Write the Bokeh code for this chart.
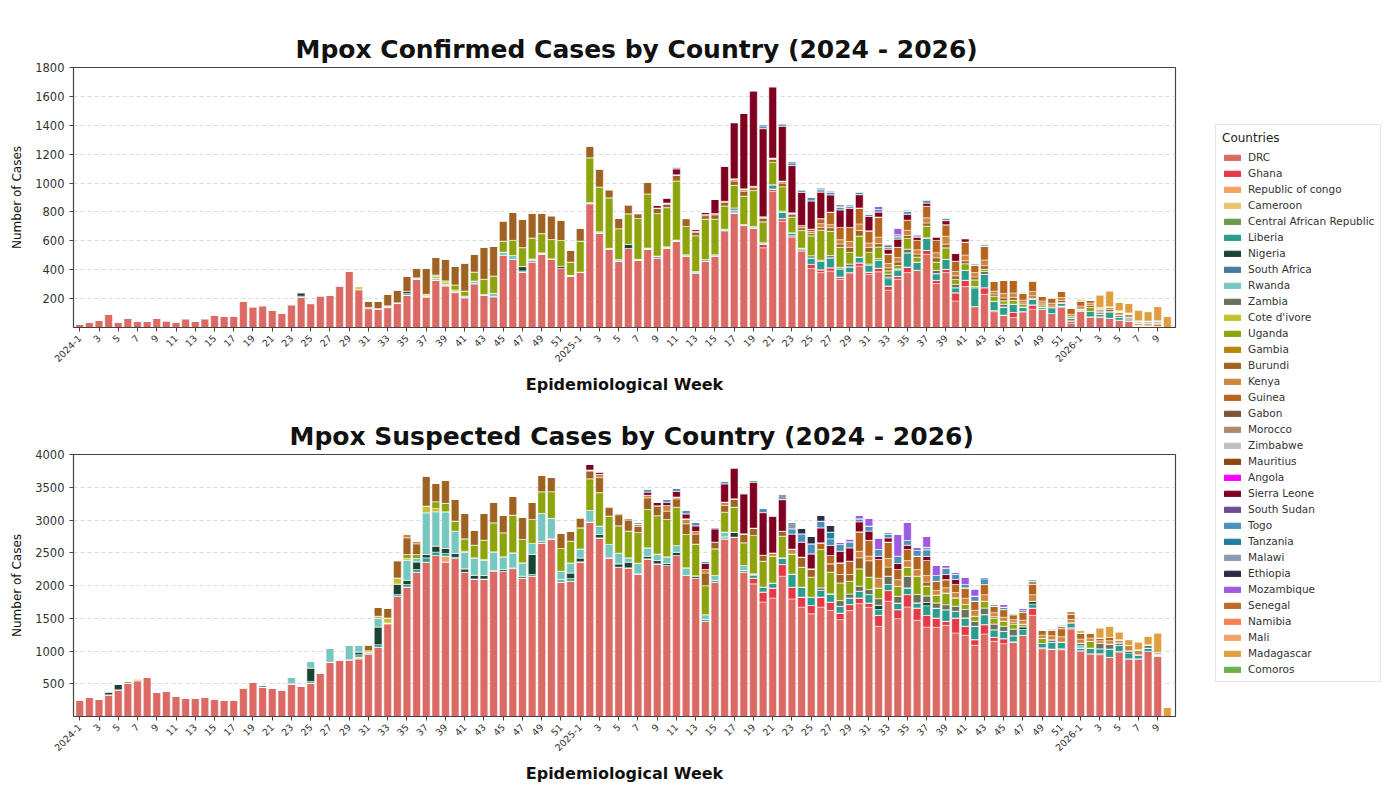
import math
from bokeh.plotting import figure
from bokeh.models import (ColumnDataSource, Range1d, FixedTicker, Legend, LegendItem)
from bokeh.layouts import row, column
from bokeh.embed import file_html
from bokeh.resources import INLINE

# ---------------- categories ----------------
YEARS = [2024, 2025, 2026]
WEEKS_PER_YEAR = [52, 52, 10]
WEEKS = [(y, w) for y, n in zip(YEARS, WEEKS_PER_YEAR) for w in range(1, n + 1)]
WEEK_LABELS = [f"{y}-{w}" if w == 1 else str(w) for y, w in WEEKS]
N = len(WEEKS)

COUNTRIES = ["DRC", "Ghana", "Republic of congo", "Cameroon", "Central African Republic",
             "Liberia", "Nigeria", "South Africa", "Rwanda", "Zambia", "Cote d'ivore",
             "Uganda", "Gambia", "Burundi", "Kenya", "Guinea", "Gabon", "Morocco",
             "Zimbabwe", "Mauritius", "Angola", "Sierra Leone", "South Sudan", "Togo",
             "Tanzania", "Malawi", "Ethiopia", "Mozambique", "Senegal", "Namibia", "Mali",
             "Madagascar", "Comoros"]
COLORS = ["#dc6a64", "#e63946", "#f4a261", "#e9c46a", "#6a994e", "#2a9d8f", "#1b4332",
          "#457b9d", "#76c7c0", "#6b705c", "#c2c22e", "#8da40c", "#b8860b", "#9e6322",
          "#cd853f", "#b5651d", "#7f5539", "#b08968", "#c0c0c0", "#8b4513", "#ff00ff",
          "#800020", "#6a4c93", "#4a90b8", "#227c9d", "#8d99ae", "#2b2d42", "#9d5bdf",
          "#bc6c25", "#ff7f50", "#f5a26a", "#e09f3e", "#6ab04c"]

Y_TICKS_C = [200, 400, 600, 800, 1000, 1200, 1400, 1600, 1800]
Y_TICKS_S = [500, 1000, 1500, 2000, 2500, 3000, 3500, 4000]

# ---------------- confirmed cases (index = week position) ----------------
DRC_C = [
    23, 35, 53, 92, 39, 64, 46, 46, 64, 46, 39, 62, 46, 62, 85, 78, 78, 180, 145, 152,
    120, 101, 159, 212, 166, 221, 223, 290, 391, 262, 131, 126, 138, 166, 225, 334, 212, 329, 290, 242,
    207, 304, 223, 214, 499, 471, 384, 455, 510, 471, 409, 356,
    384, 858, 655, 540, 460, 547, 467, 545, 483, 552, 598, 494, 375, 460, 494, 671, 793, 706, 690, 552,
    943, 736, 626, 529, 409, 380, 391, 334, 380, 425, 368, 386, 258, 334, 380, 396, 506, 304, 380, 184,
    283, 145, 230, 110, 87, 69, 110, 127, 127, 97, 138, 30,
    115, 74, 74, 64, 51, 46, 11, 7, 7, 0]
GHANA_C = {71: 25, 72: 16, 73: 18, 74: 10, 75: 10, 76: 28, 77: 20, 78: 23, 79: 16, 81: 23, 82: 16,
           83: 25, 84: 30, 85: 20, 86: 39, 88: 28, 89: 23, 90: 23, 91: 57, 92: 44, 94: 46, 95: 8,
           97: 35, 99: 30, 102: 10, 103: 16}
CAMEROON_C = {9: 5, 29: 23, 31: 5, 32: 5, 33: 5, 36: 8}
LIBERIA_C = {23: 5, 30: 8, 34: 10, 46: 8, 72: 30, 73: 46, 74: 15, 75: 10, 76: 45, 77: 57, 78: 69,
             79: 57, 80: 40, 81: 40, 82: 46, 83: 57, 84: 50, 85: 40, 86: 99, 87: 57, 88: 87, 89: 46,
             90: 69, 91: 35, 92: 69, 93: 131, 94: 92, 95: 64, 96: 55, 97: 57, 98: 32, 99: 39,
             100: 15, 101: 41, 102: 20, 103: 20, 104: 8, 105: 37, 106: 20, 107: 46, 108: 20,
             109: 15, 110: 5, 111: 5}
NIGERIA_C = {23: 25, 34: 15, 46: 30, 47: 10, 50: 14, 57: 28, 60: 12, 64: 5, 65: 10, 74: 5, 84: 12, 85: 12}
RWANDA_C = {32: 7, 35: 10, 37: 10, 38: 8, 39: 8, 40: 10, 41: 18, 42: 6, 43: 23, 44: 23, 45: 28,
            47: 10, 48: 7, 49: 5, 51: 5, 53: 7, 54: 8, 55: 8, 56: 10, 58: 5, 59: 5, 61: 7, 62: 8,
            63: 10, 64: 8, 66: 10, 67: 10, 68: 20, 69: 7, 70: 10, 71: 10}
ZAMBIA_C = {68: 15, 73: 7, 76: 15, 77: 10, 78: 15, 79: 10, 80: 20, 82: 10, 83: 10, 84: 20, 86: 25,
            89: 23, 91: 22, 93: 8, 94: 20, 96: 20, 104: 5, 106: 15, 108: 15, 109: 10}
COTE_C = {36: 10, 37: 15, 38: 15, 39: 10}
UGANDA_C = [0] * 37 + [
    10, 10, 35, 35, 62, 105, 120, 76, 104, 131, 145, 133, 133, 179, 92,
    214, 310, 310, 350, 214, 212, 283, 375, 294, 271, 409, 196, 248, 281, 246, 161, 156, 196, 248, 145,
    154, 168, 108, 122, 138, 207, 168, 138, 80, 145, 80, 80, 23, 23, 74, 35, 80, 57, 80, 35,
    46, 46, 15, 35, 23, 28, 18, 8, 15, 0, 5, 10,
    0, 28]
BURUNDI_C = [0] * 30 + [
    41, 51, 80, 91, 107, 70, 180, 124, 153, 128, 197, 122, 225, 206, 142, 195, 199, 173, 143, 166, 143, 83,
    92, 78, 126, 57, 75, 64, 34, 82, 35, 23, 39, 53, 23, 23, 30, 25, 30, 35, 20, 25,
    20, 25, 20, 20, 15, 20, 25, 23, 35, 39, 35, 23, 20, 25, 20, 20, 23, 30, 25, 25,
    20, 20, 25, 15, 20, 20, 10, 15, 12, 10, 15, 0,
    0, 15, 0, 15]
KENYA_C = [0] * 53 + [
    5, 0, 0, 0, 0, 0, 0, 4, 9, 4, 6, 8, 8, 9, 7, 16, 16, 10, 10,
    10, 14, 10, 15, 15, 25, 21, 30, 40, 45, 30, 45, 30, 30, 36, 30, 35, 35, 55, 30,
    40, 30, 40, 20, 30, 30, 20, 30, 15, 20, 20, 15,
    20, 15, 15, 18, 20, 20, 15, 15, 19, 0]
GUINEA_C = [0] * 76 + [
    16, 35, 87, 85, 98, 111, 85, 139, 65, 71, 70, 65, 80, 85, 80, 71,
    90, 54, 96, 70, 94, 90, 50, 72, 35, 39, 45, 42,
    38, 20]
ZIMBABWE_C = {106: 14, 108: 10, 109: 10, 110: 15, 111: 18, 112: 20}
SIERRA_C = [0] * 54 + [
    5, 0, 0, 0, 0, 0, 18, 32, 41, 0, 16, 16, 101, 246, 389, 524, 660, 610,
    495, 380, 327, 230, 196, 184, 120, 122, 133, 92, 99, 35, 35, 58, 41, 23, 23, 23, 28, 58, 23]
TOGO_C = {61: 8, 62: 14, 70: 6, 71: 20, 73: 12, 74: 20, 75: 15, 76: 23, 77: 16, 78: 18, 79: 16,
          80: 15, 81: 15, 82: 16, 83: 17, 84: 12, 85: 15, 86: 20, 87: 10, 88: 20, 89: 7, 90: 14,
          92: 6, 93: 14, 94: 10, 98: 8, 99: 8}
MALAWI_C = {76: 6, 77: 8, 78: 8, 79: 10, 80: 9, 81: 8, 85: 8, 86: 12, 88: 8, 90: 10}
ETHIOPIA_C = {71: 10, 73: 8, 74: 9, 75: 6, 77: 10, 78: 5, 79: 10, 80: 5, 84: 10, 85: 8, 94: 6}
MOZAMBIQUE_C = {82: 8, 83: 23, 84: 10, 85: 46, 87: 8}
MADAGASCAR_C = {104: 10, 106: 87, 107: 110, 108: 57, 109: 65, 110: 74, 111: 65, 112: 99, 113: 76}

# ---------------- suspected cases ----------------
DRC_S = [
    255, 296, 265, 332, 408, 510, 546, 602, 372, 383, 306, 281, 281, 296, 270, 245, 255, 434, 520, 449,
    434, 408, 500, 459, 510, 663, 831, 857, 867, 882, 959, 1056, 1413, 1836, 1979, 2203, 2356, 2458, 2356, 2412,
    2203, 2101, 2101, 2218, 2218, 2259, 2116, 2142, 2652, 2713, 2055, 2066,
    2361, 2968, 2729, 2423, 2280, 2270, 2178, 2408, 2331, 2306, 2458, 2153, 2112, 1453, 2051, 2713, 2739, 2204, 2025, 1749,
    1810, 2142, 1795, 1670, 1568, 1670, 1619, 1479, 1617, 1724, 1668, 1377, 1760, 1494, 1673, 1469, 1364, 1362, 1392, 1275,
    1240, 1087, 1260, 1148, 1112, 1132, 1240, 1545, 1035, 1030, 1020, 1336,
    1005, 959, 944, 903, 984, 882, 882, 994, 918, 0]
GHANA_S = [0] * 32 + [15] + [0] * 37 + [
    87, 153,
    153, 178, 178, 153, 127, 153, 127, 102, 92, 87, 66, 168, 163, 138, 189, 189, 178, 143, 61, 230,
    138, 87, 143, 61, 77, 10, 0, 112, 15, 0, 15, 20,
    0, 0, 15, 0, 10]
ROC_S = {6: 20, 38: 92}
CAMEROON_S = {6: 15, 29: 25}
CAR_S = {5: 25, 17: 15}
LIBERIA_S = {24: 25, 29: 36, 31: 41, 33: 25, 34: 36, 35: 41, 36: 66, 37: 52, 38: 41, 39: 20, 47: 26,
             50: 35, 51: 39, 65: 30, 66: 30, 67: 30, 69: 27, 70: 51, 71: 76, 72: 76, 73: 102, 74: 203,
             75: 153, 76: 127, 77: 102, 78: 127, 79: 102, 80: 102, 81: 102, 82: 128, 83: 87, 84: 92,
             85: 102, 86: 102, 87: 77, 88: 150, 89: 150, 90: 178, 91: 102, 92: 128, 93: 204, 94: 153,
             95: 117, 96: 112, 97: 92, 98: 87, 99: 60, 100: 66, 101: 102, 102: 102, 103: 77, 104: 40,
             105: 87, 106: 77, 107: 128, 108: 92, 109: 87, 110: 61, 111: 51, 112: 25}
NIGERIA_S = {3: 40, 4: 87, 24: 204, 29: 41, 31: 270, 33: 163, 34: 66, 35: 117, 36: 51, 37: 92, 38: 76,
             39: 56, 40: 51, 41: 56, 42: 51, 43: 10, 44: 27, 45: 10, 46: 26, 47: 306, 48: 25, 51: 87,
             52: 60, 54: 51, 56: 51, 57: 87, 59: 40, 60: 50, 61: 30, 62: 50, 64: 36, 68: 76, 83: 68,
             88: 50, 98: 45, 99: 42, 109: 35}
SOUTH_AFRICA_S = {19: 30}
RWANDA_S = {3: 21, 22: 97, 24: 102, 26: 214, 28: 219, 29: 102, 30: 20, 31: 128, 34: 306, 35: 51,
            36: 638, 37: 525, 38: 561, 39: 342, 40: 255, 41: 265, 42: 230, 43: 286, 44: 194, 45: 230,
            46: 204, 47: 168, 48: 423, 49: 312, 50: 128, 51: 153, 52: 138, 53: 178, 54: 128, 55: 204,
            56: 163, 57: 66, 58: 163, 59: 127, 60: 100, 61: 102, 62: 102, 63: 117, 65: 72, 66: 72,
            67: 72, 69: 76, 70: 16, 104: 37}
ZAMBIA_S = {77: 40, 79: 87, 80: 61, 81: 77, 82: 77, 83: 100, 84: 128, 85: 102, 86: 178, 87: 128,
            88: 100, 89: 80, 90: 77, 91: 77, 92: 128, 93: 77, 94: 102, 95: 87, 96: 77, 97: 102,
            101: 40, 104: 40, 106: 80, 107: 77, 108: 40, 111: 51}
COTE_S = {30: 26, 31: 36, 32: 77, 33: 92, 34: 25, 36: 102, 37: 50, 40: 14, 42: 14}
UGANDA_S = [0] * 34 + [
    61, 61, 0, 103, 128, 153, 189, 194, 296, 444, 367, 576, 357, 367, 332, 408, 347, 332,
    321, 484, 510, 434, 418, 408, 469, 585, 585, 570, 585, 509, 484, 443, 407, 305, 382, 346, 585, 392,
    407, 331, 305, 305, 305, 585, 331, 270, 194, 265, 189, 163, 0, 153, 138, 280, 150, 120, 178, 128,
    77, 77, 102, 92, 77, 77, 40, 0, 77, 0, 0, 0,
    0, 102]
BURUNDI_S = [0] * 30 + [
    92, 143, 153, 265, 255, 163, 459, 280, 357, 342, 388, 224, 408, 316, 270, 291, 342, 265, 250, 224, 240, 153,
    143, 117, 230, 128, 168, 168, 92, 178, 153, 127, 127, 163, 153, 193, 102, 102, 127, 137, 112, 92,
    0, 76, 0, 153, 127, 0, 127, 128, 102, 168, 250, 0, 138, 0, 0, 0, 60, 0, 0, 0,
    0, 0, 0, 20, 0, 26]
KENYA_S = {34: 51, 35: 41, 52: 27, 53: 16, 54: 49, 55: 25, 56: 31, 57: 25, 58: 36, 59: 40, 61: 86,
           62: 29, 63: 76, 64: 40, 65: 54, 67: 51, 72: 51, 74: 76, 81: 100, 82: 71, 83: 150, 84: 130,
           85: 100, 86: 100, 87: 100, 88: 100, 89: 70, 90: 80, 91: 80, 92: 95, 93: 90, 94: 100,
           95: 60, 96: 60, 97: 40, 98: 60, 99: 100, 100: 50, 101: 60, 102: 80, 103: 50, 104: 60,
           105: 50, 106: 40, 107: 50, 108: 47, 109: 82, 110: 77}
GUINEA_S = {77: 102, 78: 127, 79: 178, 80: 204, 81: 298, 82: 240, 83: 284, 84: 252, 85: 155, 86: 170,
            87: 206, 88: 230, 89: 140, 90: 124, 91: 124, 92: 160, 93: 140, 94: 155, 95: 102, 96: 118,
            97: 77, 98: 118, 99: 156, 100: 78, 101: 83, 102: 124, 103: 78, 104: 93, 105: 77, 106: 43,
            107: 50}
MOROCCO_S = {99: 50, 102: 35, 103: 46}
ZIMBABWE_S = {112: 36}
SIERRA_S = {53: 87, 54: 41, 59: 50, 60: 53, 61: 51, 62: 87, 63: 76, 64: 87, 65: 92, 66: 204, 67: 280,
            68: 468, 69: 611, 70: 702, 71: 651, 72: 560, 73: 483, 74: 229, 75: 229, 76: 229, 77: 229,
            78: 153, 79: 178, 80: 204, 81: 153, 82: 143, 83: 50, 84: 66, 85: 92, 86: 66, 88: 64,
            90: 77, 91: 77}
TOGO_S = {58: 30, 59: 49, 61: 50, 62: 50, 63: 51, 64: 54, 65: 30, 66: 25, 67: 36, 68: 15, 69: 15,
          70: 25, 71: 68, 72: 23, 74: 80, 75: 127, 76: 154, 77: 102, 78: 102, 79: 102, 80: 92, 81: 45,
          82: 77, 83: 102, 84: 50, 85: 112, 86: 71, 87: 87, 88: 100, 89: 88, 90: 102, 91: 77, 92: 50,
          93: 77, 94: 87, 95: 23, 96: 37, 97: 25, 98: 30, 99: 26, 100: 5, 101: 26, 102: 26}
TANZANIA_S = {78: 102, 94: 26}
MALAWI_S = {73: 87, 74: 100, 84: 36, 88: 40}
ETHIOPIA_S = {75: 86, 76: 112, 77: 86, 78: 102}
MOZAMBIQUE_S = {79: 36, 80: 45, 81: 50, 82: 120, 83: 179, 85: 331, 86: 281, 87: 50, 88: 163, 89: 153,
                90: 37, 91: 34, 92: 112, 93: 111, 96: 40, 98: 37}
MADAGASCAR_S = {104: 36, 106: 153, 107: 169, 108: 117, 109: 87, 110: 117, 111: 128, 112: 296, 113: 138}


def series(v):
    if isinstance(v, dict):
        out = [0] * N
        for k, val in v.items():
            out[k] = val
        return out
    return (list(v) + [0] * N)[:N]


CONFIRMED = {"DRC": DRC_C, "Ghana": GHANA_C, "Cameroon": CAMEROON_C, "Liberia": LIBERIA_C,
             "Nigeria": NIGERIA_C, "Rwanda": RWANDA_C, "Zambia": ZAMBIA_C, "Cote d'ivore": COTE_C,
             "Uganda": UGANDA_C, "Burundi": BURUNDI_C, "Kenya": KENYA_C, "Guinea": GUINEA_C,
             "Zimbabwe": ZIMBABWE_C, "Sierra Leone": SIERRA_C, "Togo": TOGO_C, "Malawi": MALAWI_C,
             "Ethiopia": ETHIOPIA_C, "Mozambique": MOZAMBIQUE_C, "Madagascar": MADAGASCAR_C}
SUSPECTED = {"DRC": DRC_S, "Ghana": GHANA_S, "Republic of congo": ROC_S, "Cameroon": CAMEROON_S,
             "Central African Republic": CAR_S, "Liberia": LIBERIA_S, "Nigeria": NIGERIA_S,
             "South Africa": SOUTH_AFRICA_S, "Rwanda": RWANDA_S, "Zambia": ZAMBIA_S,
             "Cote d'ivore": COTE_S, "Uganda": UGANDA_S, "Burundi": BURUNDI_S, "Kenya": KENYA_S,
             "Guinea": GUINEA_S, "Morocco": MOROCCO_S, "Zimbabwe": ZIMBABWE_S,
             "Sierra Leone": SIERRA_S, "Togo": TOGO_S, "Tanzania": TANZANIA_S, "Malawi": MALAWI_S,
             "Ethiopia": ETHIOPIA_S, "Mozambique": MOZAMBIQUE_S, "Madagascar": MADAGASCAR_S}

KEYS = [f"c{i}" for i in range(len(COUNTRIES))]
FONT = "DejaVu Sans"


def make_source(table):
    data = {"x": list(range(N))}
    for key, name in zip(KEYS, COUNTRIES):
        data[key] = series(table.get(name, {}))
    return ColumnDataSource(data)


def make_chart(title, table, ymax, yticks, height, top, bottom, title_offset):
    p = figure(width=1198, height=height, title=title,
               x_range=Range1d(-0.65, N - 0.15), y_range=Range1d(0, ymax),
               output_backend="svg", toolbar_location=None,
               min_border_left=73, min_border_right=23, min_border_top=top, min_border_bottom=bottom)
    p.vbar_stack(KEYS, x="x", width=0.8, source=make_source(table),
                 fill_color=COLORS, line_color="white", line_width=0.5)
    p.title.text_font = FONT
    p.title.text_font_size = "25px"
    p.title.text_font_style = "bold"
    p.title.align = "left"
    p.title.offset = title_offset
    p.title.text_color = "#111111"
    p.title.standoff = 7

    ticks = list(range(0, N, 2))
    p.xaxis.ticker = FixedTicker(ticks=ticks)
    p.xaxis.major_label_overrides = {t: WEEK_LABELS[t] for t in ticks}
    p.xaxis.major_label_orientation = math.pi / 4
    p.xaxis.major_label_text_font_size = "9.5px"
    p.xaxis.axis_label = "Epidemiological Week"
    p.xaxis.axis_label_text_font_size = "16px"
    p.xaxis.axis_label_text_font_style = "bold"
    p.xaxis.axis_label_standoff = 7

    p.yaxis.ticker = FixedTicker(ticks=yticks)
    p.yaxis.major_label_text_font_size = "11.5px"
    p.yaxis.axis_label = "Number of Cases"
    p.yaxis.axis_label_text_font_size = "12px"
    p.yaxis.axis_label_text_font_style = "normal"
    p.yaxis.axis_label_standoff = 8

    for ax in (p.xaxis, p.yaxis):
        ax.axis_label_text_font = FONT
        ax.major_label_text_font = FONT
        ax.major_label_text_color = "#333333"
        ax.axis_label_text_color = "#111111"
        ax.axis_line_color = "#444444"
        ax.major_tick_line_color = "#444444"
        ax.major_tick_out = 4
        ax.major_tick_in = 0
        ax.minor_tick_line_color = None

    p.xgrid.grid_line_color = None
    p.ygrid.ticker = FixedTicker(ticks=yticks)
    p.ygrid.grid_line_color = "#cccccc"
    p.ygrid.grid_line_dash = "4 3"
    p.ygrid.grid_line_alpha = 0.7
    p.outline_line_color = "#444444"
    p.outline_line_width = 1.2
    p.outline_line_alpha = 1
    return p


p1 = make_chart("Mpox Confirmed Cases by Country (2024 - 2026)", CONFIRMED, 1800, Y_TICKS_C,
                403, 67, 76, 222)
p2 = make_chart("Mpox Suspected Cases by Country (2024 - 2026)", SUSPECTED, 4000, Y_TICKS_S,
                383, 51, 70, 216)

# legend panel: the same stacked bars, scrolled out of view, feed the legend swatches
pl = figure(width=186, height=786, x_range=Range1d(-1000, -999), y_range=Range1d(0, 1),
            x_axis_type=None, y_axis_type=None, output_backend="svg", toolbar_location=None,
            min_border=0)
pl.grid.visible = False
pl.outline_line_color = None
legend_renderers = pl.vbar_stack(KEYS, x="x", width=0.8, source=make_source(CONFIRMED),
                                 fill_color=COLORS, line_color=COLORS)
items = [LegendItem(label=name, renderers=[r]) for name, r in zip(COUNTRIES, legend_renderers)]
legend = Legend(items=items, location=(17, 104), title="Countries",
                label_text_font=FONT, label_text_font_size="10.5px", label_text_color="#333333",
                title_text_font=FONT, title_text_font_size="12px", title_text_font_style="normal",
                title_text_color="#222222", title_standoff=6,
                glyph_height=7, glyph_width=20, label_height=12, label_standoff=6, spacing=4,
                padding=6, margin=0, border_line_color="#cccccc", border_line_width=1,
                background_fill_color="white", background_fill_alpha=1)
pl.add_layout(legend, "center")

layout = row(column(p1, p2), pl)
open("out.html", "w").write(file_html(layout, INLINE))
